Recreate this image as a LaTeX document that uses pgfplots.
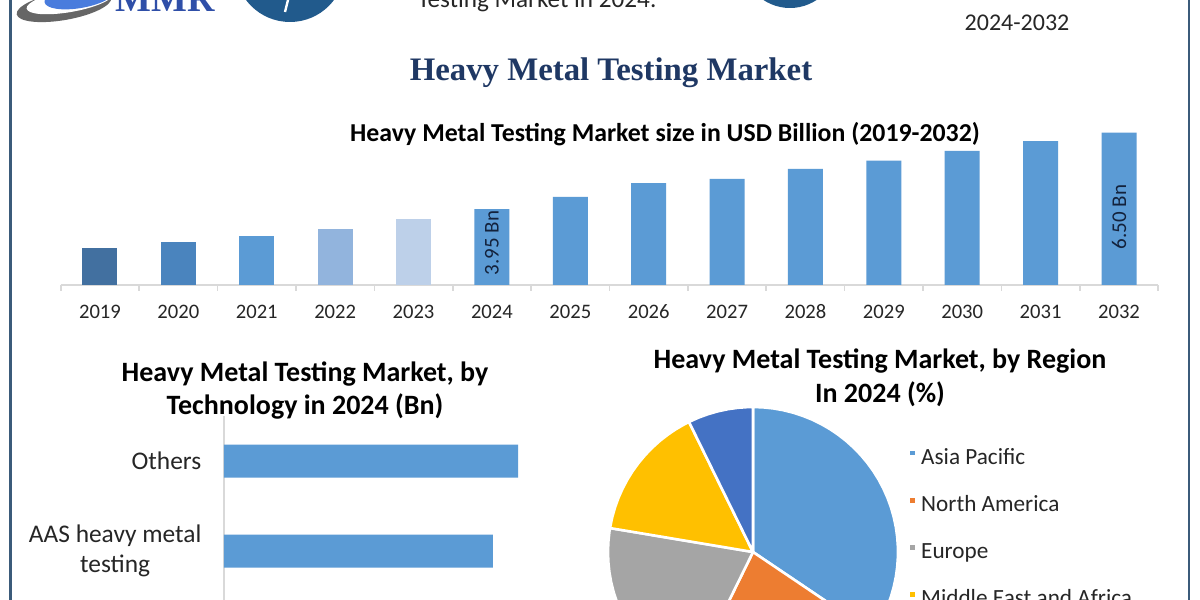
\documentclass[border=0pt]{standalone}
\usepackage{pgfplots}
\pgfplotsset{compat=1.18}
\usepgfplotslibrary{polar}
\usepackage{fontspec}
\setmainfont{Carlito}
\newfontfamily\titlefont{Liberation Serif}
\definecolor{navy}{HTML}{1F3864}
\definecolor{c19}{HTML}{4270A0}
\definecolor{c20}{HTML}{4A84BE}
\definecolor{cmain}{HTML}{5B9BD5}
\definecolor{c22}{HTML}{92B4DD}
\definecolor{c23}{HTML}{BDD0E9}
\definecolor{apc}{HTML}{5B9BD5}
\definecolor{nac}{HTML}{ED7D31}
\definecolor{euc}{HTML}{A5A5A5}
\definecolor{meac}{HTML}{FFC000}
\definecolor{sac}{HTML}{4472C4}
\definecolor{axisgray}{HTML}{D9D9D9}
\definecolor{framec}{HTML}{3B5B7A}
\definecolor{logoblue}{HTML}{215A8C}
\definecolor{mmrblue}{HTML}{2F4FA8}
\definecolor{txt}{HTML}{262626}
\begin{document}
\begin{tikzpicture}
\useasboundingbox (0,0) rectangle (600pt,300pt);
\clip (0,0) rectangle (600pt,300pt);
\fill[white] (0,0) rectangle (600pt,300pt);
% ---- decorative header (cropped) ----
\fill[black!60, rotate around={10:(32pt,297pt)}] (32pt,297pt) ellipse (24pt and 7pt);
\fill[white, rotate around={10:(35pt,299.5pt)}] (35pt,299.5pt) ellipse (22pt and 5.5pt);
\fill[cmain!80!blue, rotate around={10:(40pt,302pt)}] (40pt,302pt) ellipse (18pt and 6pt);
\node[anchor=base, font=\titlefont\bfseries\fontsize{19}{20}\selectfont, text=mmrblue] at (82.5pt,294pt) {MMR};
\fill[logoblue] (145pt,316.5pt) circle (27.5pt);
\draw[white, line width=1.2pt] (144pt,300pt) -- (142.5pt,294pt);
\fill[logoblue] (395pt,320pt) circle (24pt);
\node[anchor=base, font=\fontsize{12.6}{14}\selectfont, text=txt] at (268.5pt,296pt) {Testing Market in 2024.};
\node[anchor=base, font=\fontsize{12}{14}\selectfont, text=txt] at (508.5pt,284.5pt) {2024-2032};
\draw[framec, line width=1.5pt] (5pt,0) -- (5pt,300pt);
\draw[framec, line width=1pt] (594.5pt,0) -- (594.5pt,300pt);
% ---- titles ----
\node[font=\titlefont\bfseries\fontsize{16.4}{18}\selectfont, text=navy] at (305.5pt,263.5pt) {Heavy Metal Testing Market};
\node[font=\bfseries\fontsize{12.9}{14}\selectfont, text=black] at (332.5pt,233pt) {Heavy Metal Testing Market size in USD Billion (2019-2032)};
\node[align=center, font=\bfseries\fontsize{14}{16.5}\selectfont, text=black] at (152.5pt,104.5pt) {Heavy Metal Testing Market, by\\Technology in 2024 (Bn)};
\node[align=center, font=\bfseries\fontsize{14}{17}\selectfont, text=black] at (440pt,111pt) {Heavy Metal Testing Market, by Region\\In 2024 (\%)};
% ---- market size bar chart ----
\begin{axis}[
  at={(30.4pt,157.5pt)}, anchor=south west,
  scale only axis, width=548.7pt, height=83.65pt,
  xmin=-0.5, xmax=13.5, ymin=1.42, ymax=7,
  axis y line=none, axis x line*=bottom,
  x axis line style={axisgray, line width=0.8pt, -},
  ybar, bar width=17.5pt, bar shift=0pt,
  xtick={0,...,13},
  xticklabels={2019,2020,2021,2022,2023,2024,2025,2026,2027,2028,2029,2030,2031,2032},
  major tick length=0pt,
  minor xtick={-0.5,0.5,...,13.5},
  minor tick length=3pt,
  tick align=outside,
  minor tick style={axisgray, line width=0.8pt},
  xticklabel style={font=\fontsize{10.3}{12}\selectfont, text=txt, anchor=base, yshift=-16.8pt},
]
\addplot[fill=c19, draw=none] coordinates {(0,2.65)};
\addplot[fill=c20, draw=none] coordinates {(1,2.84)};
\addplot[fill=cmain, draw=none] coordinates {(2,3.07)};
\addplot[fill=c22, draw=none] coordinates {(3,3.30)};
\addplot[fill=c23, draw=none] coordinates {(4,3.61)};
\addplot[fill=cmain, draw=none] coordinates {(5,3.95) (6,4.36) (7,4.82) (8,4.96) (9,5.29) (10,5.57) (11,5.89) (12,6.22) (13,6.50)};
\node[rotate=90, font=\fontsize{10.5}{12}\selectfont, text=navy!60!black] at (axis cs:5,2.82) {3.95 Bn};
\node[rotate=90, font=\fontsize{10.5}{12}\selectfont, text=navy!60!black] at (axis cs:13,3.69) {6.50 Bn};
\end{axis}
% ---- technology bar chart ----
\begin{axis}[
  at={(112pt,-43pt)}, anchor=south west,
  scale only axis, width=200.5pt, height=135pt,
  xmin=0, xmax=1.5, ymin=0.5, ymax=3.5,
  xbar, bar width=16.5pt, bar shift=0pt,
  axis x line=none, axis y line*=left,
  y axis line style={axisgray, line width=0.8pt, -},
  ytick={2,3}, yticklabels={AAS heavy metal\\testing, Others},
  major tick length=0pt,
  yticklabel style={align=center, font=\fontsize{12.7}{15}\selectfont, text=txt, xshift=-7.8pt},
]
\addplot[fill=cmain, draw=none] coordinates {(1.10,3) (1.006,2)};
\end{axis}
% ---- region pie (shares %: AP 34.4, NA 22.8, EU 20.4, MEA 15.1, SA 7.3) ----
\begin{polaraxis}[
  at={(376.5pt,24pt)}, anchor=origin,
  scale only axis, width=145pt, height=145pt,
  ymin=0, ymax=1, hide axis, clip=false,
  legend style={draw=none, fill=none, at={(1.031,0.862)}, anchor=north west,
    font=\fontsize{11.6}{13}\selectfont, text=txt, row sep=12.6pt, column sep=2pt,
    inner sep=0pt, nodes={inner sep=0pt, text height=8.4pt, text depth=2.6pt}},
  legend cell align=left,
  legend image code/.code={\fill[#1] (0pt,0.9pt) rectangle (3.6pt,4.5pt);},
]
\addplot[fill=apc, draw=white, line width=1.3pt, line join=round] coordinates {(0,0) (90,1) (86,1) (82,1) (78,1) (74,1) (70,1) (66,1) (62,1) (58,1) (54,1) (50,1) (46,1) (42,1) (38,1) (34,1) (30,1) (26,1) (22,1) (18,1) (14,1) (10,1) (6,1) (2,1) (-2,1) (-6,1) (-10,1) (-14,1) (-18,1) (-22,1) (-26,1) (-30,1) (-34,1)} -- cycle;
\addlegendentry{Asia Pacific}
\addplot[fill=nac, draw=white, line width=1.3pt, line join=round] coordinates {(0,0) (-34,1) (-38,1) (-42,1) (-46,1) (-50,1) (-54,1) (-58,1) (-62,1) (-66,1) (-70,1) (-74,1) (-78,1) (-82,1) (-86,1) (-90,1) (-94,1) (-98,1) (-102,1) (-106,1) (-110,1) (-114,1) (-116.2,1)} -- cycle;
\addlegendentry{North America}
\addplot[fill=euc, draw=white, line width=1.3pt, line join=round] coordinates {(0,0) (243.8,1) (240,1) (236,1) (232,1) (228,1) (224,1) (220,1) (216,1) (212,1) (208,1) (204,1) (200,1) (196,1) (192,1) (188,1) (184,1) (180,1) (176,1) (172,1) (170.5,1)} -- cycle;
\addlegendentry{Europe}
\addplot[fill=meac, draw=white, line width=1.3pt, line join=round] coordinates {(0,0) (170.5,1) (166,1) (162,1) (158,1) (154,1) (150,1) (146,1) (142,1) (138,1) (134,1) (130,1) (126,1) (122,1) (118,1) (116.2,1)} -- cycle;
\addlegendentry{Middle East and Africa}
\addplot[fill=sac, draw=white, line width=1.3pt, line join=round] coordinates {(0,0) (116.2,1) (112,1) (108,1) (104,1) (100,1) (96,1) (92,1) (90,1)} -- cycle;
\addlegendentry{South America}
\end{polaraxis}
\end{tikzpicture}
\end{document}
